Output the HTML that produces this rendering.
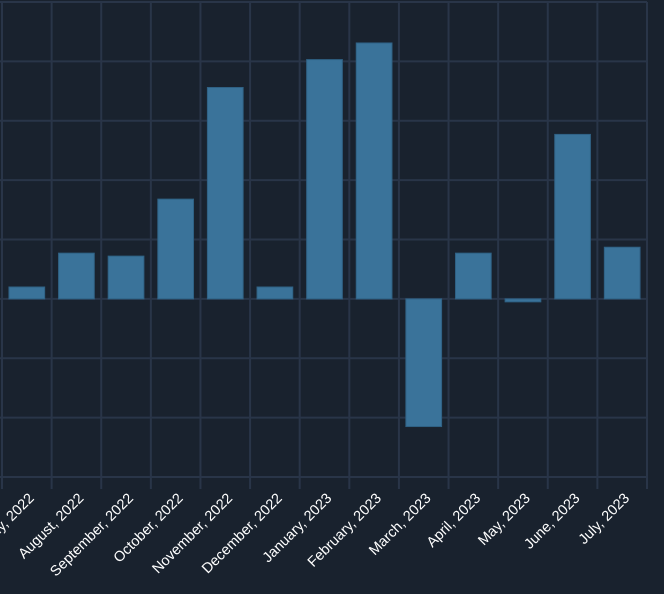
<!DOCTYPE html>
<html><head><meta charset="utf-8"><style>
html,body{margin:0;padding:0;background:#19222e;}
svg{display:block;font-family:"Liberation Sans",sans-serif;}
</style></head><body>
<svg id="chart" width="664" height="594"></svg>
<script>
const categories=["July, 2022","August, 2022","September, 2022","October, 2022","November, 2022","December, 2022","January, 2023","February, 2023","March, 2023","April, 2023","May, 2023","June, 2023","July, 2023"];
const values=[0.2,0.77,0.72,1.68,3.56,0.2,4.03,4.31,-2.15,0.77,-0.05,2.77,0.87];
const yTicks=[-3,-2,-1,0,1,2,3,4,5];
const NS="http://www.w3.org/2000/svg";
const svg=document.getElementById('chart');
const x0=2,x1=647,y0=477,y1=2,yMin=-3,yMax=5;
const bw=(x1-x0)/categories.length;
function xs(i){return x0+i*bw;}
function ys(v){return y0-(v-yMin)/(yMax-yMin)*(y0-y1);}
function mk(t,a){const e=document.createElementNS(NS,t);for(const k in a)e.setAttribute(k,a[k]);svg.appendChild(e);return e;}
yTicks.forEach(t=>{
 const l=mk('line',{x1:0,x2:x1,y1:ys(t),y2:ys(t),stroke:'#293548','stroke-width':2});
 
 
});
for(let i=0;i<=categories.length;i++){
 const l=mk('line',{x1:xs(i),x2:xs(i),y1:y1,y2:y0+12,stroke:'#293548','stroke-width':2});
 
 
}
categories.forEach((c,i)=>{
 const v=values[i];
 const top=Math.min(ys(v),ys(0)),h=Math.abs(ys(v)-ys(0));
 const r=mk('rect',{x:xs(i)+bw*0.14,y:top,width:bw*0.72,height:Math.max(h,1),fill:'#3a739a',stroke:'#2f6184','stroke-width':1});
 
 
 const cx=xs(i)+bw/2+8;
 const t=mk('text',{x:0,y:0,fill:'#ffffff','font-size':14.5,'text-anchor':'end',transform:`translate(${cx},${499}) rotate(-45)`});
 t.textContent=c;
 
 
});
</script>
</body></html>
